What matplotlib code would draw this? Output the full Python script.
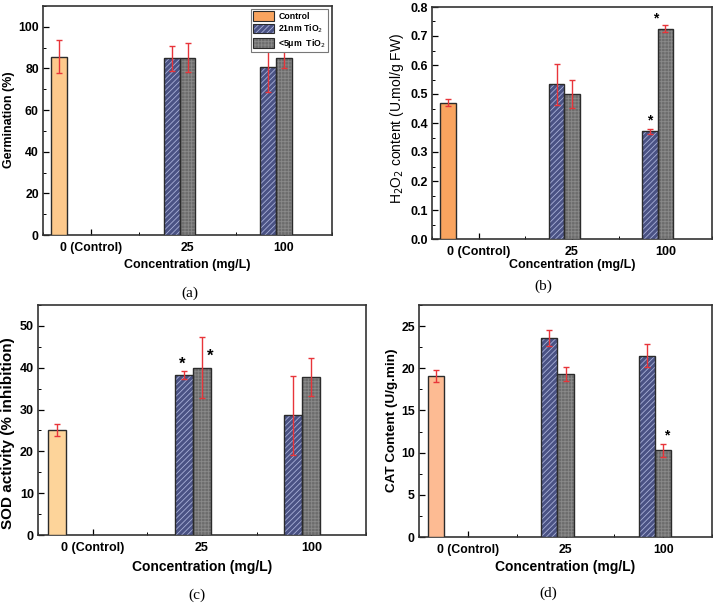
import matplotlib
matplotlib.use("Agg")
import matplotlib.pyplot as plt
from matplotlib.patches import Patch
from matplotlib.ticker import MultipleLocator, AutoMinorLocator, FormatStrFormatter
import numpy as np

plt.rcParams['font.family'] = ['Liberation Sans', 'DejaVu Sans']
plt.rcParams['hatch.linewidth'] = 0.6

categories = ["0 (Control)", "25", "100"]
series_names = ["Control", "21nm TiO$_2$", "<5\u03bcm  TiO$_2$"]

# (a) Germination (%)
germ_control, germ_control_err = 85.7, 8.0
germ_21nm = [84.9, 80.6]
germ_21nm_err = [6.0, 12.0]
germ_5um = [85.2, 84.9]
germ_5um_err = [7.0, 4.5]

# (b) H2O2 content
h2o2_control, h2o2_control_err = 0.470, 0.013
h2o2_21nm = [0.533, 0.371]
h2o2_21nm_err = [0.072, 0.008]
h2o2_5um = [0.500, 0.725]
h2o2_5um_err = [0.047, 0.012]

# (c) SOD activity
sod_control, sod_control_err = 25.1, 1.4
sod_21nm = [38.2, 28.6]
sod_21nm_err = [1.0, 9.5]
sod_5um = [40.0, 37.8]
sod_5um_err = [7.25, 4.6]

# (d) CAT content
cat_control, cat_control_err = 19.1, 0.75
cat_21nm = [23.6, 21.5]
cat_21nm_err = [0.95, 1.4]
cat_5um = [19.3, 10.3]
cat_5um_err = [0.85, 0.78]

W, H = 715, 606
fig = plt.figure(figsize=(W / 100, H / 100), dpi=100)

def add_ax(left, right, top, bottom):
    return fig.add_axes([left / W, (H - bottom) / H, (right - left) / W, (bottom - top) / H])

w = 0.165
x = np.arange(3)
RED = '#e8353a'
EDGE = '#2b2b2b'
HATCH_BG = '#4a5284'
HATCH_FG = '#a9b0d8'
GRAY_BG = '#6c6c6c'
GRAY_FG = '#8a8a8a'

def draw(ax, box, ctrl, ctrl_err, s1, s1_err, s2, s2_err, ctrl_color, ylim, ymaj, ylabel,
         ylab_x, ylab_y, xlab_y, ylab_size, xlab_size, tick_size, ylabel_bold=True, fmt=None):
    left, right, top, bottom = box
    ek = dict(ecolor=RED, elinewidth=1.0, capsize=2.5, capthick=1.0, fmt='none', zorder=5)
    ax.bar([x[0] - 2 * w], [ctrl], width=w, color=ctrl_color, edgecolor=EDGE, linewidth=1.0, zorder=3)
    ax.errorbar([x[0] - 2 * w], [ctrl], yerr=[ctrl_err], **ek)
    xs1 = x[1:] - w
    ax.bar(xs1, s1, width=w, color=HATCH_BG, edgecolor=HATCH_FG, linewidth=0, hatch='//////', zorder=3)
    ax.bar(xs1, s1, width=w, fill=False, edgecolor=EDGE, linewidth=1.0, zorder=4)
    ax.errorbar(xs1, s1, yerr=s1_err, **ek)
    xs2 = x[1:]
    ax.bar(xs2, s2, width=w, color=GRAY_BG, edgecolor=GRAY_FG, linewidth=0, hatch='+++++', zorder=3)
    ax.bar(xs2, s2, width=w, fill=False, edgecolor=EDGE, linewidth=1.0, zorder=4)
    ax.errorbar(xs2, s2, yerr=s2_err, **ek)

    ax.set_xlim(-0.5, 2.5)
    ax.set_ylim(*ylim)
    ax.set_xticks(x)
    ax.set_xticklabels(categories, fontweight='bold', fontsize=tick_size)
    ax.xaxis.set_minor_locator(MultipleLocator(0.5))
    ax.yaxis.set_major_locator(MultipleLocator(ymaj))
    ax.yaxis.set_minor_locator(AutoMinorLocator(2))
    if fmt:
        ax.yaxis.set_major_formatter(FormatStrFormatter(fmt))
    ax.tick_params(which='major', direction='in', length=4, width=0.9)
    ax.tick_params(axis='x', which='major', pad=5)
    ax.tick_params(axis='y', which='major', pad=3, labelsize=tick_size)
    ax.tick_params(which='minor', direction='in', length=2, width=0.7)
    ax.tick_params(axis='x', which='both', top=False)
    ax.tick_params(axis='y', which='both', right=False)
    for lab in ax.get_yticklabels():
        lab.set_fontweight('bold')
    for sp in ax.spines.values():
        sp.set_linewidth(1.2)
        sp.set_color('#333333')
    ax.set_xlabel('Concentration (mg/L)', fontweight='bold', fontsize=xlab_size)
    ax.set_ylabel(ylabel, fontweight='bold' if ylabel_bold else 'normal', fontsize=ylab_size)
    ax.yaxis.set_label_coords((ylab_x - left) / (right - left), (bottom - ylab_y) / (bottom - top))
    ax.yaxis.label.set_va('center')
    ax.xaxis.set_label_coords(0.5, (bottom - xlab_y) / (bottom - top))
    ax.xaxis.label.set_va('center')

# (a)
box_a = (43, 332, 6, 235)
axa = add_ax(*box_a)
draw(axa, box_a, germ_control, germ_control_err, germ_21nm, germ_21nm_err, germ_5um, germ_5um_err,
     '#fdc98c', (0, 110), 20, 'Germination (%)', 9, 120, 265, 9, 9, 8.8)
h_ctrl = Patch(facecolor='#f9a45f', edgecolor=EDGE, linewidth=0.8)
h_21 = (Patch(facecolor=HATCH_BG, edgecolor=HATCH_FG, linewidth=0, hatch='//////'),
        Patch(fill=False, edgecolor=EDGE, linewidth=0.8))
h_5 = (Patch(facecolor=GRAY_BG, edgecolor=GRAY_FG, linewidth=0, hatch='+++++'),
       Patch(fill=False, edgecolor=EDGE, linewidth=0.8))
leg = axa.legend([h_ctrl, h_21, h_5], series_names, loc='upper right',
                 bbox_to_anchor=(0.99, 0.99), prop={'weight': 'bold', 'size': 6.3},
                 frameon=True, fancybox=False, edgecolor='#777777', framealpha=1,
                 handlelength=2.4, handleheight=1.25, borderpad=0.25, labelspacing=0.2,
                 handletextpad=0.5, borderaxespad=0.1)
leg.get_frame().set_linewidth(0.8)

# (b)
box_b = (432, 712, 7, 239)
axb = add_ax(*box_b)
draw(axb, box_b, h2o2_control, h2o2_control_err, h2o2_21nm, h2o2_21nm_err, h2o2_5um, h2o2_5um_err,
     '#f9a45f', (0, 0.8), 0.1, 'H$_2$O$_2$ content (U.mol/g FW)', 397, 118, 265, 10, 9, 9,
     ylabel_bold=False, fmt='%.1f')
axb.text(x[2] - w, h2o2_21nm[1] + 0.012, '*', ha='center', va='bottom', fontsize=10, fontweight='bold')
axb.text(x[2] - 0.6 * w, h2o2_5um[1] + 0.01, '*', ha='center', va='bottom', fontsize=10, fontweight='bold')

# (c)
box_c = (38, 366, 305, 535)
axc = add_ax(*box_c)
draw(axc, box_c, sod_control, sod_control_err, sod_21nm, sod_21nm_err, sod_5um, sod_5um_err,
     '#fdd49a', (0, 55), 10, 'SOD activity (% inhibition)', 8, 433, 567, 11, 10, 9)
axc.text(x[1] - w - 0.08 * w, 39.0, '*', ha='center', va='bottom', fontsize=12, fontweight='bold')
axc.text(x[1] + 0.45 * w, 40.9, '*', ha='center', va='bottom', fontsize=12, fontweight='bold')

# (d)
box_d = (419, 712, 305, 537)
axd = add_ax(*box_d)
draw(axd, box_d, cat_control, cat_control_err, cat_21nm, cat_21nm_err, cat_5um, cat_5um_err,
     '#fdbb93', (0, 27.5), 5, 'CAT Content (U/g.min)', 392, 420, 567, 9.7, 10, 8.8)
axd.text(x[2] + 0.25 * w, cat_5um[1] + 0.9, '*', ha='center', va='bottom', fontsize=10, fontweight='bold')

# panel labels
for lab, (px, py) in zip(['(a)', '(b)', '(c)', '(d)'],
                         [(190, 293), (543, 286), (197, 595), (548, 593)]):
    fig.text(px / W, 1 - py / H, lab, ha='center', va='center',
             fontsize=11, family='Liberation Serif')

fig.savefig('out.png', dpi=100)
